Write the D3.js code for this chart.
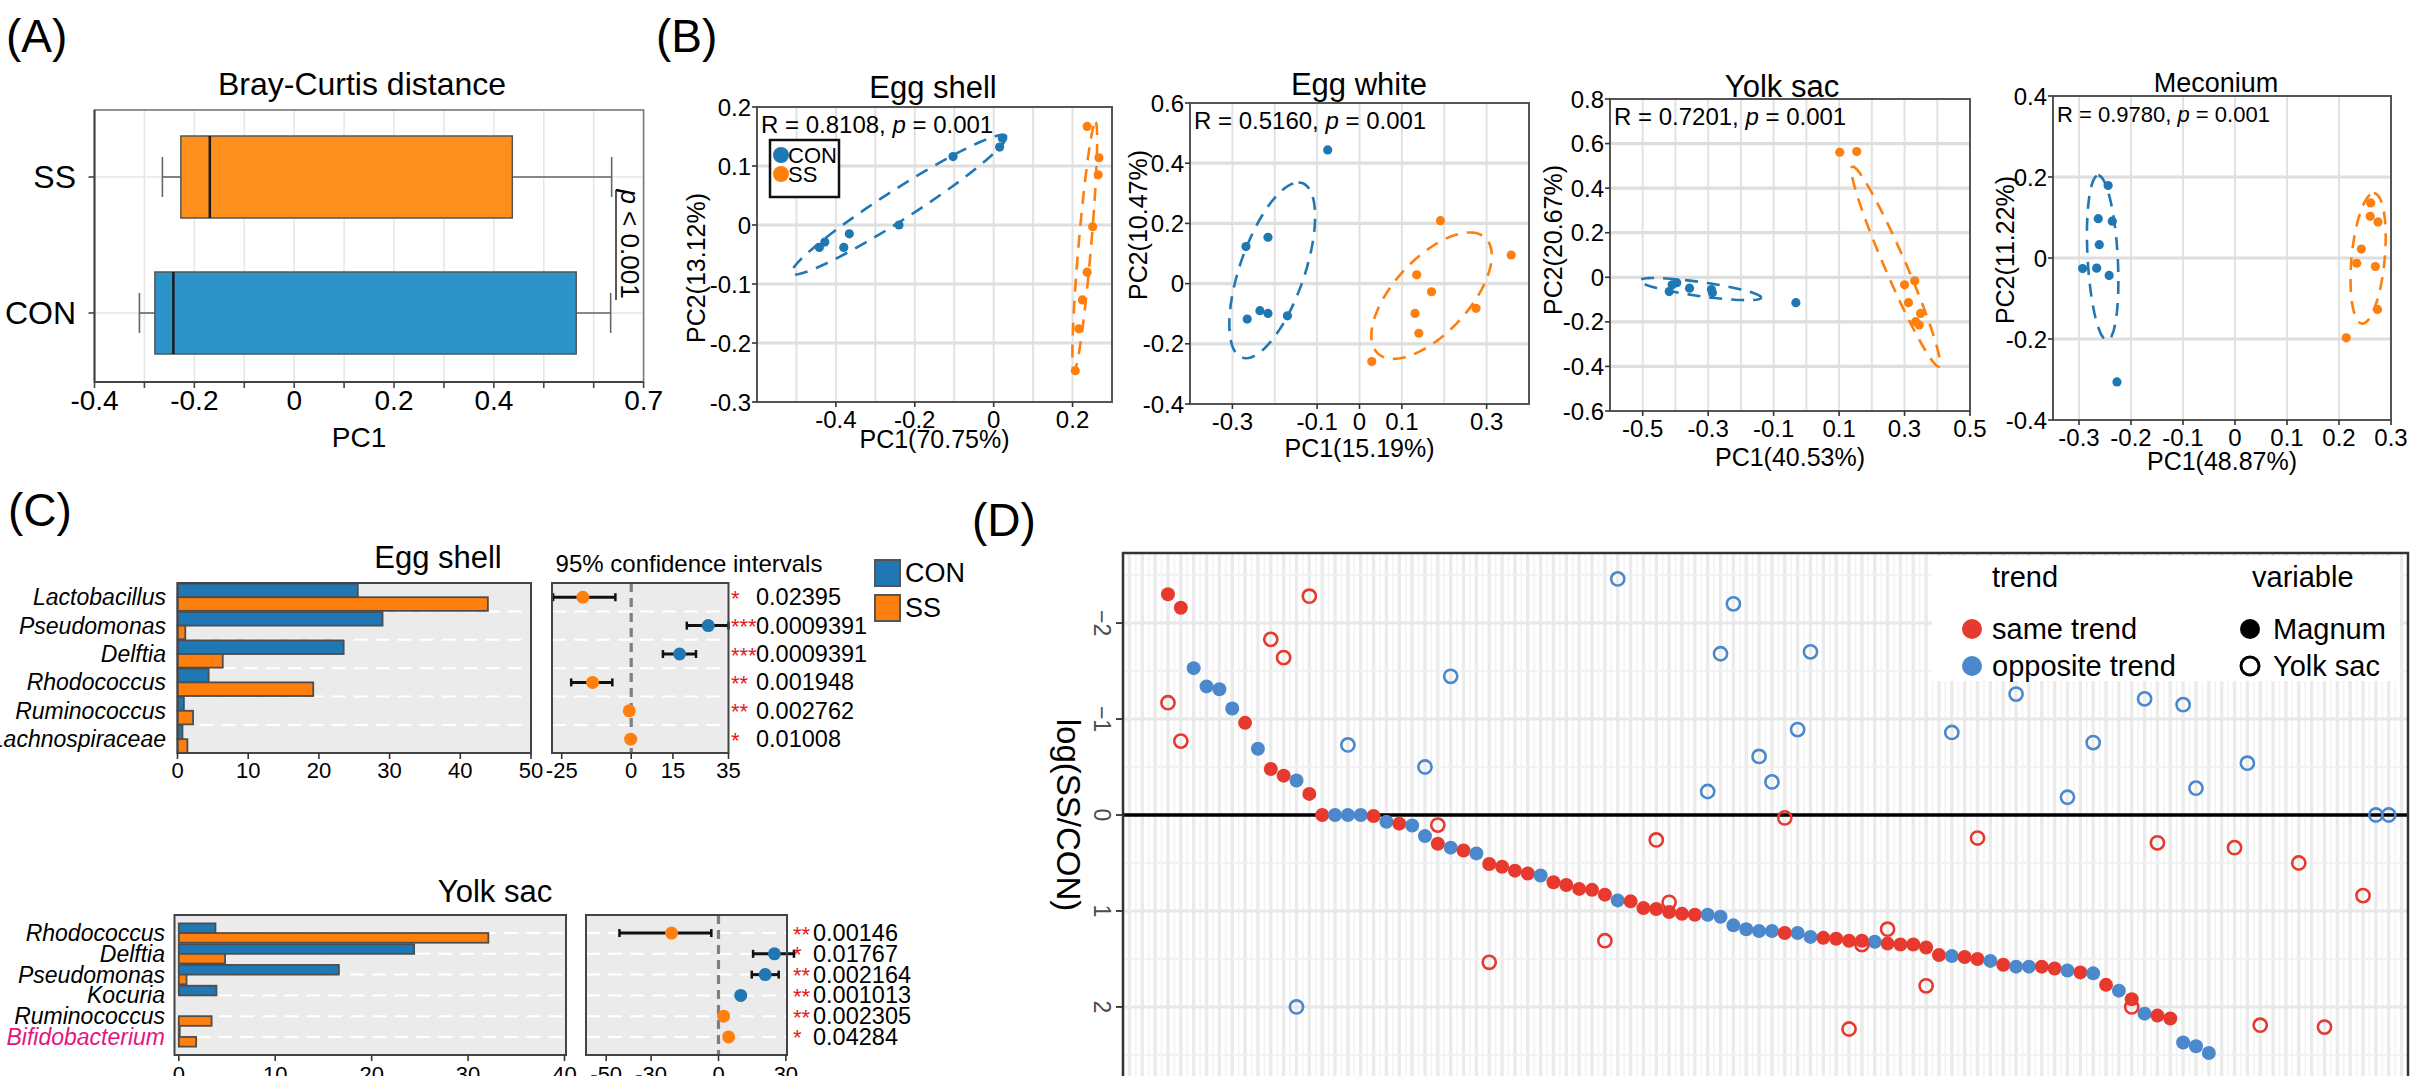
<!DOCTYPE html>
<html>
<head>
<meta charset="utf-8">
<title>Microbiota figure</title>
<script src="https://cdn.jsdelivr.net/npm/d3@7"></script>
<style>
  body { margin: 0; background: #ffffff; }
  text { font-family: "Liberation Sans", Arial, Helvetica, sans-serif; fill: #000; }
</style>
</head>
<body>
<div id="viz"></div>
<script>
// ---------------- values ----------------

// (A) PC1 of Bray-Curtis distance, box = [lower whisker, Q1, median, Q3, upper whisker]
var boxGroups = ["SS", "CON"];
var boxSS = [-0.264, -0.227, -0.169, 0.437, 0.636];
var boxCON = [-0.31, -0.279, -0.242, 0.565, 0.634];
var boxTicks = [-0.4, -0.2, 0, 0.2, 0.4, 0.7];

// (B) PCoA of each sample type
var pcoaTitles = ["Egg shell", "Egg white", "Yolk sac", "Meconium"];
var pcoaR = ["0.8108", "0.5160", "0.7201", "0.9780"];
var pcoaP = ["0.001", "0.001", "0.001", "0.001"];
var pcoaXTitles = ["PC1(70.75%)", "PC1(15.19%)", "PC1(40.53%)", "PC1(48.87%)"];
var pcoaYTitles = ["PC2(13.12%)", "PC2(10.47%)", "PC2(20.67%)", "PC2(11.22%)"];
var pcoaXDomains = [[-0.6, 0.3], [-0.4, 0.4], [-0.6, 0.5], [-0.35, 0.3]];
var pcoaYDomains = [[-0.3, 0.2], [-0.4, 0.6], [-0.6, 0.8], [-0.4, 0.4]];
var pcoaXTicks = [[-0.4, -0.2, 0, 0.2], [-0.3, -0.1, 0, 0.1, 0.3], [-0.5, -0.3, -0.1, 0.1, 0.3, 0.5], [-0.3, -0.2, -0.1, 0, 0.1, 0.2, 0.3]];
var pcoaYTicks = [[-0.3, -0.2, -0.1, 0, 0.1, 0.2], [-0.4, -0.2, 0, 0.2, 0.4, 0.6], [-0.6, -0.4, -0.2, 0, 0.2, 0.4, 0.6, 0.8], [-0.4, -0.2, 0, 0.2, 0.4]];

var eggShellCON = [[-0.103, 0.116], [0.022, 0.147], [0.015, 0.132], [-0.24, 0.0], [-0.366, -0.015], [-0.38, -0.038], [-0.428, -0.029], [-0.442, -0.038]];
var eggShellSS = [[0.237, 0.167], [0.267, 0.114], [0.265, 0.085], [0.251, -0.003], [0.237, -0.08], [0.225, -0.127], [0.216, -0.176], [0.207, -0.247]];
var eggWhiteCON = [[-0.075, 0.444], [-0.268, 0.123], [-0.216, 0.154], [-0.265, -0.118], [-0.235, -0.09], [-0.216, -0.099], [-0.17, -0.107]];
var eggWhiteSS = [[0.191, 0.209], [0.358, 0.095], [0.135, 0.029], [0.17, -0.027], [0.131, -0.099], [0.275, -0.082], [0.14, -0.165], [0.029, -0.259]];
var yolkSacCON = [[-0.396, -0.024], [-0.419, -0.064], [-0.357, -0.049], [-0.287, -0.069], [-0.41, -0.034], [-0.29, -0.055], [-0.032, -0.114]];
var yolkSacSS = [[0.102, 0.561], [0.154, 0.564], [0.30, -0.034], [0.331, -0.016], [0.312, -0.114], [0.349, -0.162], [0.334, -0.199], [0.345, -0.214]];
var meconiumCON = [[-0.244, 0.179], [-0.263, 0.097], [-0.236, 0.091], [-0.261, 0.033], [-0.293, -0.026], [-0.266, -0.025], [-0.242, -0.043], [-0.227, -0.306]];
var meconiumSS = [[0.261, 0.136], [0.26, 0.103], [0.275, 0.089], [0.243, 0.022], [0.234, -0.013], [0.27, -0.021], [0.274, -0.127], [0.214, -0.197]];

// ellipses: [centre x, centre y, semi-diameter a (x, y), conjugate semi-diameter b (x, y)]
var ellipseCON = [[-0.24, 0.0345, 0.272, 0.1145, 0, 0.03], [-0.206, 0.044, 0.062, 0.292, 0.08, 0], [-0.324, -0.053, 0.186, -0.038, 0, 0.032], [-0.2545, 0.0005, -0.0085, 0.2035, 0.029, 0]];
var ellipseSS = [[0.231, -0.0365, 0.027, 0.2105, 0.016, 0], [0.17, -0.04, 0.09, 0.21, 0.11, 0], [0.273, 0.048, -0.131, 0.449, 0.035, 0], [0.256, -0.001, 0.011, 0.161, 0.032, 0]];

// (C) differential genera, relative abundance (%) and difference with 95% CI
var esTaxa = ["Lactobacillus", "Pseudomonas", "Delftia", "Rhodococcus", "Ruminococcus", "Lachnospiraceae"];
var esCON = [25.5, 29.0, 23.5, 4.4, 0.9, 0.7];
var esSS = [43.9, 1.1, 6.4, 19.2, 2.2, 1.4];
var esDiff = [-17.4, 27.7, 17.4, -13.9, -0.7, -0.2];
var esLow = [-28.1, 20.0, 11.4, -21.6, -0.7, -0.2];
var esHigh = [-5.7, 35.0, 23.3, -6.8, -0.7, -0.2];
var esEnriched = ["SS", "CON", "CON", "SS", "SS", "SS"];
var esP = ["0.02395", "0.0009391", "0.0009391", "0.001948", "0.002762", "0.01008"];
var esStars = ["*", "***", "***", "**", "**", "*"];
var esBarTicks = [0, 10, 20, 30, 40, 50];
var esCiTicks = [-25, 0, 15, 35];

var ysTaxa = ["Rhodococcus", "Delftia", "Pseudomonas", "Kocuria", "Ruminococcus", "Bifidobacterium"];
var ysCON = [3.8, 24.4, 16.6, 3.9, 0, 0.1];
var ysSS = [32.1, 4.8, 0.8, 0, 3.4, 1.8];
var ysDiff = [-20.9, 24.9, 20.8, 9.9, 2.3, 4.5];
var ysLow = [-44.1, 15.4, 14.8, 9.9, 2.3, 4.5];
var ysHigh = [-3.2, 33.6, 26.8, 9.9, 2.3, 4.5];
var ysEnriched = ["SS", "CON", "CON", "CON", "SS", "SS"];
var ysP = ["0.00146", "0.01767", "0.002164", "0.001013", "0.002305", "0.04284"];
var ysStars = ["**", "*", "**", "**", "**", "*"];
var ysBarTicks = [0, 10, 20, 30, 40];
var ysCiTicks = [-50, -30, 0, 30];
var highlightTaxa = ["Bifidobacterium"];

// (D) log(SS/CON) per genus, sorted by the Magnum value
var magnumLog = [-2.30, -2.16, -1.53, -1.34, -1.31, -1.11, -0.96, -0.69, -0.48, -0.41,
  -0.36, -0.22, 0.00, 0.00, 0.00, 0.00, 0.01, 0.07, 0.09, 0.11,
  0.22, 0.30, 0.34, 0.37, 0.40, 0.51, 0.54, 0.58, 0.61, 0.63,
  0.70, 0.73, 0.77, 0.78, 0.83, 0.89, 0.90, 0.97, 0.98, 1.01,
  1.03, 1.04, 1.04, 1.06, 1.15, 1.19, 1.21, 1.21, 1.23, 1.23,
  1.27, 1.28, 1.29, 1.31, 1.31, 1.32, 1.34, 1.35, 1.35, 1.38,
  1.46, 1.47, 1.48, 1.50, 1.52, 1.56, 1.58, 1.58, 1.58, 1.60,
  1.62, 1.64, 1.65, 1.77, 1.83, 1.92, 2.07, 2.09, 2.12, 2.37,
  2.41, 2.48];
var yolkIdx = [0, 1, 8, 9, 10, 11, 14, 20, 21, 22, 25, 34, 35, 38, 39, 42, 43, 44, 46, 47,
  48, 49, 50, 53, 54, 56, 59, 61, 63, 66, 70, 72, 75, 76, 77, 79, 80, 83, 84, 85,
  88, 90, 93, 94, 95];
var yolkLog = [-1.17, -0.77, -1.83, -1.64, 2.0, -2.28, -0.73, -0.50, 0.105, -1.445,
  1.535, 1.31, -2.46, 0.26, 0.91, -0.245, -1.68, -2.20, -0.61, -0.345,
  0.03, -0.89, -1.70, 2.23, 1.35, 1.19, 1.78, -0.86, 0.24, -1.26,
  -0.185, -0.755, 2.0, -1.21, 0.29, -1.15, -0.28, 0.34, -0.54, 2.19,
  0.50, 2.21, 0.84, 0.0, 0.0];
// S = same trend, O = opposite trend, - = no point
var trendCodes = ("SSOOOOSOSS" + "OSSOOOSOSO" + "OSOSOSSSSO" + "SSSSSOSSSS" + "SSOOOOOOSO" +
  "OSSSSOSSSS" + "SOSSOSOOSS" + "OSOSOSOSSO" + "OO-SOS--S-" + "S--SOO").split("");
var trendLabels = ["same trend", "opposite trend"];
var variableLabels = ["Magnum", "Yolk sac"];

// ---------------- drawing ----------------

var W = 2427, H = 1076;
var colCON = "#1f77b4", colSS = "#ff7f0e";
var colSame = "#e8392e", colOpp = "#4b89cc";

var svg = d3.select("#viz").append("svg")
  .attr("width", W)
  .attr("height", H);

svg.append("rect").attr("width", W).attr("height", H).attr("fill", "#ffffff");

function addText(g, str, x, y, size, anchor) {
  return g.append("text")
    .attr("x", x)
    .attr("y", y)
    .attr("font-size", size)
    .attr("text-anchor", anchor || "start")
    .text(str);
}

function fmt(d) {
  return d === 0 ? "0" : String(d);
}

// panel letters
var letters = ["(A)", "(B)", "(C)", "(D)"];
var letterPos = [[6, 52], [656, 52], [8, 526], [972, 536]];
letters.forEach(function (l, i) {
  addText(svg, l, letterPos[i][0], letterPos[i][1], 46);
});

// ---------- (A) box plot ----------
function drawBoxPanel() {
  var left = 94.5, right = 643.6, top = 110, bottom = 382;
  var x = d3.scaleLinear().domain([-0.4, 0.7]).range([left, right]);
  var y = d3.scalePoint().domain(boxGroups).range([177, 313]);
  var boxes = [boxSS, boxCON];
  var fills = ["#fd8f1d", "#2d94c9"];
  var g = svg.append("g");

  // grid
  g.selectAll("line.vg").data(d3.range(-3, 7)).enter().append("line")
    .attr("x1", function (d) { return x(d / 10); })
    .attr("x2", function (d) { return x(d / 10); })
    .attr("y1", top).attr("y2", bottom)
    .attr("stroke", "#e6e6e6").attr("stroke-width", 1.5);
  g.selectAll("line.hg").data(boxGroups).enter().append("line")
    .attr("x1", left).attr("x2", right)
    .attr("y1", function (d) { return y(d); })
    .attr("y2", function (d) { return y(d); })
    .attr("stroke", "#e6e6e6").attr("stroke-width", 1.5);

  boxGroups.forEach(function (grp, i) {
    var b = boxes[i], cy = y(grp);
    [[b[0], b[1]], [b[3], b[4]]].forEach(function (seg) {
      g.append("line")
        .attr("x1", x(seg[0])).attr("x2", x(seg[1]))
        .attr("y1", cy).attr("y2", cy)
        .attr("stroke", "#666").attr("stroke-width", 1.6);
    });
    [b[0], b[4]].forEach(function (v) {
      g.append("line")
        .attr("x1", x(v)).attr("x2", x(v))
        .attr("y1", cy - 20).attr("y2", cy + 20)
        .attr("stroke", "#666").attr("stroke-width", 1.6);
    });
    g.append("rect")
      .attr("x", x(b[1])).attr("y", cy - 41)
      .attr("width", x(b[3]) - x(b[1])).attr("height", 82)
      .attr("fill", fills[i]).attr("stroke", "#555").attr("stroke-width", 1.5);
    g.append("line")
      .attr("x1", x(b[2])).attr("x2", x(b[2]))
      .attr("y1", cy - 41).attr("y2", cy + 41)
      .attr("stroke", "#1a1a1a").attr("stroke-width", 2.5);
  });

  g.append("rect")
    .attr("x", left).attr("y", top)
    .attr("width", right - left).attr("height", bottom - top)
    .attr("fill", "none").attr("stroke", "#777").attr("stroke-width", 1.6);
  g.append("line").attr("x1", left).attr("x2", right).attr("y1", bottom).attr("y2", bottom)
    .attr("stroke", "#444").attr("stroke-width", 2);
  g.append("line").attr("x1", left).attr("x2", left).attr("y1", top).attr("y2", bottom)
    .attr("stroke", "#444").attr("stroke-width", 2);

  // ticks
  g.selectAll("line.xt").data(d3.range(-4, 8)).enter().append("line")
    .attr("x1", function (d) { return x(d / 10); })
    .attr("x2", function (d) { return x(d / 10); })
    .attr("y1", bottom).attr("y2", bottom + 6)
    .attr("stroke", "#444").attr("stroke-width", 1.6);
  g.selectAll("line.yt").data(boxGroups).enter().append("line")
    .attr("x1", left - 6).attr("x2", left)
    .attr("y1", function (d) { return y(d); })
    .attr("y2", function (d) { return y(d); })
    .attr("stroke", "#444").attr("stroke-width", 1.6);

  boxTicks.forEach(function (t) {
    addText(g, fmt(t), x(t), 410, 28, "middle");
  });
  boxGroups.forEach(function (grp) {
    addText(g, grp, 76, y(grp), 32, "end").attr("dominant-baseline", "central");
  });
  addText(g, "Bray-Curtis distance", 362, 95, 32, "middle");
  addText(g, "PC1", 359, 447, 28, "middle");

  // significance note
  g.append("line")
    .attr("x1", 616).attr("x2", 616)
    .attr("y1", 190).attr("y2", 300)
    .attr("stroke", "#222").attr("stroke-width", 1.5);
  var pt = g.append("text")
    .attr("transform", "translate(621,244) rotate(90)")
    .attr("text-anchor", "middle")
    .attr("font-size", 26);
  pt.append("tspan").attr("font-style", "italic").text("p");
  pt.append("tspan").text(" < 0.001");
}

// ---------- (B) PCoA panels ----------
var pcoaCON = [eggShellCON, eggWhiteCON, yolkSacCON, meconiumCON];
var pcoaSS = [eggShellSS, eggWhiteSS, yolkSacSS, meconiumSS];

function drawPcoaPanel(k) {
  var frames = [[757, 1112, 107, 402], [1190, 1529, 103, 404], [1610, 1970, 99, 411], [2053, 2391, 96, 420]];
  var titlePos = [[933, 98], [1359, 95], [1782, 97], [2216, 92]];
  var xTitleY = [448, 457, 466, 470];
  var yTitlePos = [[696, 268], [1138, 225], [1553, 240], [2005, 250]];
  var f = frames[k];
  var left = f[0], right = f[1], top = f[2], bottom = f[3];
  var x = d3.scaleLinear().domain(pcoaXDomains[k]).range([left, right]);
  var y = d3.scaleLinear().domain(pcoaYDomains[k]).range([bottom, top]);
  var g = svg.append("g");

  var xd = pcoaXDomains[k], yd = pcoaYDomains[k];
  var vLines = d3.range(Math.ceil(xd[0] * 10 + 0.001), Math.floor(xd[1] * 10 - 0.001) + 1).map(function (d) { return d / 10; });
  var hLines = pcoaYTicks[k].filter(function (d) { return d > yd[0] && d < yd[1]; });

  g.selectAll("line.vg").data(vLines).enter().append("line")
    .attr("x1", function (d) { return x(d); })
    .attr("x2", function (d) { return x(d); })
    .attr("y1", top).attr("y2", bottom)
    .attr("stroke", "#e2e2e2").attr("stroke-width", 2);
  g.selectAll("line.hg").data(hLines).enter().append("line")
    .attr("x1", left).attr("x2", right)
    .attr("y1", function (d) { return y(d); })
    .attr("y2", function (d) { return y(d); })
    .attr("stroke", "#dedede").attr("stroke-width", 3.2);

  // dashed ellipses
  function ellipse(e, color) {
    var pts = d3.range(0, 361, 4).map(function (a) {
      var t = a * Math.PI / 180;
      return [x(e[0] + e[2] * Math.cos(t) + e[4] * Math.sin(t)),
        y(e[1] + e[3] * Math.cos(t) + e[5] * Math.sin(t))];
    });
    g.append("path")
      .attr("d", d3.line()(pts))
      .attr("fill", "none")
      .attr("stroke", color)
      .attr("stroke-width", 2.6)
      .attr("stroke-dasharray", "13,9");
  }
  ellipse(ellipseCON[k], colCON);
  ellipse(ellipseSS[k], colSS);

  [[pcoaCON[k], colCON], [pcoaSS[k], colSS]].forEach(function (s) {
    g.selectAll(null).data(s[0]).enter().append("circle")
      .attr("cx", function (d) { return x(d[0]); })
      .attr("cy", function (d) { return y(d[1]); })
      .attr("r", 4.6)
      .attr("fill", s[1]);
  });

  g.append("rect")
    .attr("x", left).attr("y", top)
    .attr("width", right - left).attr("height", bottom - top)
    .attr("fill", "none").attr("stroke", "#555").attr("stroke-width", 2);

  // ticks and labels
  pcoaXTicks[k].forEach(function (t) {
    g.append("line").attr("x1", x(t)).attr("x2", x(t)).attr("y1", bottom).attr("y2", bottom + 5)
      .attr("stroke", "#333").attr("stroke-width", 1.6);
    addText(g, fmt(t), x(t), bottom + 26, 24, "middle");
  });
  pcoaYTicks[k].forEach(function (t) {
    g.append("line").attr("x1", left - 5).attr("x2", left).attr("y1", y(t)).attr("y2", y(t))
      .attr("stroke", "#333").attr("stroke-width", 1.6);
    addText(g, fmt(t), left - 6, y(t), 24, "end").attr("dominant-baseline", "central");
  });

  addText(g, pcoaTitles[k], titlePos[k][0], titlePos[k][1], k === 3 ? 27 : 31, "middle");
  addText(g, pcoaXTitles[k], (left + right) / 2, xTitleY[k], 25, "middle");
  g.append("text")
    .attr("transform", "translate(" + yTitlePos[k][0] + "," + yTitlePos[k][1] + ") rotate(-90)")
    .attr("text-anchor", "middle")
    .attr("dominant-baseline", "central")
    .attr("font-size", 25)
    .text(pcoaYTitles[k]);

  var rt = g.append("text")
    .attr("x", left + 4).attr("y", top + 26)
    .attr("font-size", k === 3 ? 22 : 24);
  rt.append("tspan").text("R = " + pcoaR[k] + ", ");
  rt.append("tspan").attr("font-style", "italic").text("p");
  rt.append("tspan").text(" = " + pcoaP[k]);

  // group legend, only in the first panel
  if (k === 0) {
    g.append("rect")
      .attr("x", 770).attr("y", 140).attr("width", 69).attr("height", 57)
      .attr("fill", "#fff").attr("stroke", "#111").attr("stroke-width", 2.5);
    [["CON", colCON], ["SS", colSS]].forEach(function (d, i) {
      g.append("circle").attr("cx", 781).attr("cy", 155 + i * 19).attr("r", 8).attr("fill", d[1]);
      addText(g, d[0], 788, 155 + i * 19, 22).attr("dominant-baseline", "central");
    });
  }
}

// ---------- (C) abundance bars + CI ----------
function drawDiffPanel(c) {
  var g = svg.append("g");
  var y = d3.scaleBand().domain(c.taxa).range(c.band).paddingInner(c.pad);
  var bw = y.bandwidth();
  var xb = d3.scaleLinear().domain(c.barDomain).range(c.barRange);
  var xc = d3.scaleLinear().domain(c.ciDomain).range([c.ciFrame[0], c.ciFrame[1]]);
  var top = c.barFrame[2], bottom = c.barFrame[3];

  // grey panels
  [c.barFrame, c.ciFrame].forEach(function (f) {
    g.append("rect")
      .attr("x", f[0]).attr("y", f[2])
      .attr("width", f[1] - f[0]).attr("height", f[3] - f[2])
      .attr("fill", "#ebebeb");
  });

  // white dashed guides
  var guides = c.guideAtCentre ?
    c.taxa.map(function (t) { return y(t) + bw / 2; }) :
    c.taxa.slice(1).map(function (t) { return y(t) - y.step() * y.paddingInner() / 2; });
  [c.barFrame, c.ciFrame].forEach(function (f) {
    g.selectAll(null).data(guides).enter().append("line")
      .attr("x1", f[0]).attr("x2", f[1])
      .attr("y1", function (d) { return d; })
      .attr("y2", function (d) { return d; })
      .attr("stroke", "#ffffff").attr("stroke-width", 2)
      .attr("stroke-dasharray", "14,8");
  });

  // bars
  c.taxa.forEach(function (t, i) {
    [[c.con[i], colCON, 0], [c.ss[i], colSS, 1]].forEach(function (b) {
      if (b[0] <= 0) return;
      g.append("rect")
        .attr("x", xb(0)).attr("y", y(t) + b[2] * bw / 2)
        .attr("width", xb(b[0]) - xb(0)).attr("height", bw / 2)
        .attr("fill", b[1]).attr("stroke", "#4d4d4d").attr("stroke-width", 1.8);
    });
  });

  // zero line in CI panel
  g.append("line")
    .attr("x1", xc(0)).attr("x2", xc(0))
    .attr("y1", top).attr("y2", bottom)
    .attr("stroke", "#7f7f7f").attr("stroke-width", 3.2)
    .attr("stroke-dasharray", "9,6");

  // CI bars and points
  c.taxa.forEach(function (t, i) {
    var cy = y(t) + bw / 2;
    if (c.high[i] - c.low[i] > 0.5) {
      g.append("line").attr("x1", xc(c.low[i])).attr("x2", xc(c.high[i]))
        .attr("y1", cy).attr("y2", cy).attr("stroke", "#111").attr("stroke-width", 3);
      [c.low[i], c.high[i]].forEach(function (v) {
        g.append("line").attr("x1", xc(v)).attr("x2", xc(v))
          .attr("y1", cy - 4).attr("y2", cy + 4).attr("stroke", "#111").attr("stroke-width", 2.5);
      });
    }
    g.append("circle")
      .attr("cx", xc(c.diff[i])).attr("cy", cy).attr("r", 6.5)
      .attr("fill", c.enriched[i] === "CON" ? colCON : colSS);
  });

  // frames
  [c.barFrame, c.ciFrame].forEach(function (f) {
    g.append("rect")
      .attr("x", f[0]).attr("y", f[2])
      .attr("width", f[1] - f[0]).attr("height", f[3] - f[2])
      .attr("fill", "none").attr("stroke", "#444").attr("stroke-width", 2);
  });

  // axes
  c.barTicks.forEach(function (t) {
    g.append("line").attr("x1", xb(t)).attr("x2", xb(t)).attr("y1", bottom).attr("y2", bottom + 6)
      .attr("stroke", "#333").attr("stroke-width", 1.6);
    addText(g, fmt(t), xb(t), c.tickY, 22, "middle");
  });
  c.ciTicks.forEach(function (t) {
    g.append("line").attr("x1", xc(t)).attr("x2", xc(t)).attr("y1", bottom).attr("y2", bottom + 6)
      .attr("stroke", "#333").attr("stroke-width", 1.6);
    addText(g, fmt(t), xc(t), c.tickY, 22, "middle");
  });

  // taxa, p values
  c.taxa.forEach(function (t, i) {
    var cy = y(t) + bw / 2;
    addText(g, t, c.labelX, cy, 23, "end")
      .attr("dominant-baseline", "central")
      .attr("font-style", "italic")
      .style("fill", highlightTaxa.indexOf(t) >= 0 ? "#e5157f" : "#000");
    addText(g, c.stars[i], c.starX, cy + 1, 22).attr("dominant-baseline", "central").style("fill", "#e31a1c");
    addText(g, c.pvals[i], c.pX, cy, 23.5).attr("dominant-baseline", "central");
  });

  addText(g, c.title, c.titlePos[0], c.titlePos[1], 31, "middle");
}

// ---------- (D) trend scatter ----------
function drawTrendPanel() {
  var left = 1123, right = 2408, top = 553, bottom = 1100;
  var x = d3.scaleLinear().domain([-3.5, 96.5]).range([left, right]);
  var y = d3.scaleLinear().domain([-2.73, 2.73]).range([top, top + 2 * 262]);
  var g = svg.append("g");

  // grid
  g.selectAll(null).data(d3.range(-3.5, 96.6, 0.5)).enter().append("line")
    .attr("x1", function (d) { return x(d); })
    .attr("x2", function (d) { return x(d); })
    .attr("y1", top).attr("y2", bottom)
    .attr("stroke", function (d) { return d % 1 === 0 ? "#ebebeb" : "#f2f2f2"; })
    .attr("stroke-width", function (d) { return d % 1 === 0 ? 3.4 : 1.4; });
  g.selectAll(null).data(d3.range(-2.5, 2.6, 0.5)).enter().append("line")
    .attr("x1", left).attr("x2", right)
    .attr("y1", function (d) { return y(d); })
    .attr("y2", function (d) { return y(d); })
    .attr("stroke", function (d) { return d % 1 === 0 ? "#e8e8e8" : "#efefef"; })
    .attr("stroke-width", function (d) { return d % 1 === 0 ? 3 : 1.6; });

  g.append("line")
    .attr("x1", left).attr("x2", right)
    .attr("y1", y(0)).attr("y2", y(0))
    .attr("stroke", "#000").attr("stroke-width", 3.6);

  function trendColor(i) {
    return trendCodes[i] === "O" ? colOpp : colSame;
  }

  // Magnum points (filled)
  g.selectAll(null).data(magnumLog).enter().append("circle")
    .attr("cx", function (d, i) { return x(i); })
    .attr("cy", function (d) { return y(d); })
    .attr("r", 7)
    .attr("fill", function (d, i) { return trendColor(i); });

  // Yolk sac points (open)
  g.selectAll(null).data(yolkLog).enter().append("circle")
    .attr("cx", function (d, j) { return x(yolkIdx[j]); })
    .attr("cy", function (d) { return y(d); })
    .attr("r", 6.6)
    .attr("fill", "none")
    .attr("stroke", function (d, j) { return trendColor(yolkIdx[j]); })
    .attr("stroke-width", 2.6);

  g.append("rect")
    .attr("x", left).attr("y", top)
    .attr("width", right - left).attr("height", bottom - top)
    .attr("fill", "none").attr("stroke", "#333").attr("stroke-width", 2.5);

  // y axis (reversed, rotated labels)
  [-2, -1, 0, 1, 2].forEach(function (t) {
    g.append("line").attr("x1", left - 7).attr("x2", left).attr("y1", y(t)).attr("y2", y(t))
      .attr("stroke", "#333").attr("stroke-width", 1.8);
    g.append("text")
      .attr("transform", "translate(" + (left - 21) + "," + y(t) + ") rotate(90)")
      .attr("text-anchor", "middle")
      .attr("dominant-baseline", "central")
      .attr("font-size", 23)
      .style("fill", "#4d4d4d")
      .text(t < 0 ? "\u2212" + Math.abs(t) : String(t));
  });
  g.append("text")
    .attr("transform", "translate(1068," + y(0) + ") rotate(90)")
    .attr("text-anchor", "middle")
    .attr("dominant-baseline", "central")
    .attr("font-size", 33)
    .text("log(SS/CON)");

  // legend
  var lg = g.append("g");
  lg.append("rect").attr("x", 1932).attr("y", 556).attr("width", 468).attr("height", 125).attr("fill", "#fff");
  addText(lg, "trend", 1992, 587, 29);
  addText(lg, "variable", 2252, 587, 29);
  [colSame, colOpp].forEach(function (col, i) {
    lg.append("circle").attr("cx", 1972).attr("cy", 629 + i * 37).attr("r", 10).attr("fill", col);
    addText(lg, trendLabels[i], 1992, 629 + i * 37, 29).attr("dominant-baseline", "central");
  });
  lg.append("circle").attr("cx", 2250).attr("cy", 629).attr("r", 10).attr("fill", "#000");
  lg.append("circle").attr("cx", 2250).attr("cy", 666).attr("r", 9).attr("fill", "none")
    .attr("stroke", "#000").attr("stroke-width", 3);
  variableLabels.forEach(function (v, i) {
    addText(lg, v, 2273, 629 + i * 37, 29).attr("dominant-baseline", "central");
  });
}

drawBoxPanel();
[0, 1, 2, 3].forEach(drawPcoaPanel);

drawDiffPanel({
  taxa: esTaxa, con: esCON, ss: esSS, diff: esDiff, low: esLow, high: esHigh,
  enriched: esEnriched, pvals: esP, stars: esStars,
  barDomain: [0, 50], barRange: [177.5, 531], barTicks: esBarTicks,
  ciDomain: [-28.5, 35], ciTicks: esCiTicks,
  barFrame: [177.5, 531, 583, 753], ciFrame: [552, 728.5, 583, 753],
  band: [583.6, 752.8], pad: 0.04, guideAtCentre: false,
  tickY: 778, labelX: 166, starX: 731, pX: 756,
  title: "Egg shell", titlePos: [438, 568]
});
addText(svg, "95% confidence intervals", 689, 572, 24, "middle");
// group legend of (C)
[["CON", colCON], ["SS", colSS]].forEach(function (d, i) {
  svg.append("rect").attr("x", 875).attr("y", 560 + i * 35).attr("width", 25).attr("height", 26)
    .attr("fill", d[1]).attr("stroke", "#555").attr("stroke-width", 2);
  addText(svg, d[0], 905, 573 + i * 35, 27).attr("dominant-baseline", "central");
});

drawDiffPanel({
  taxa: ysTaxa, con: ysCON, ss: ysSS, diff: ysDiff, low: ysLow, high: ysHigh,
  enriched: ysEnriched, pvals: ysP, stars: ysStars,
  barDomain: [0, 40], barRange: [178.8, 564.5], barTicks: ysBarTicks,
  ciDomain: [-59, 30.5], ciTicks: ysCiTicks,
  barFrame: [174.5, 566, 915, 1055], ciFrame: [586, 787, 915, 1055],
  band: [923.4, 1046.6], pad: 0.07, guideAtCentre: true,
  tickY: 1082, labelX: 165, starX: 793, pX: 813,
  title: "Yolk sac", titlePos: [495, 902]
});

drawTrendPanel();
</script>
</body>
</html>
